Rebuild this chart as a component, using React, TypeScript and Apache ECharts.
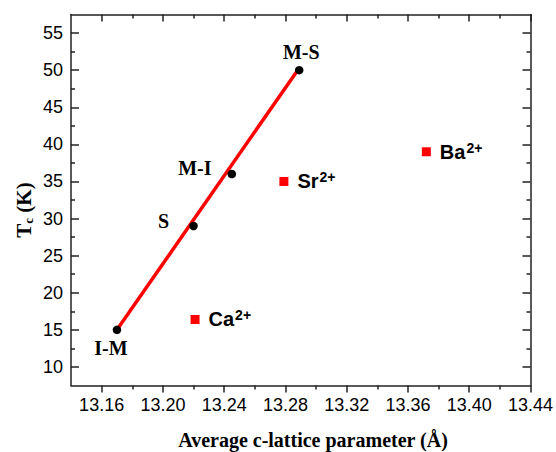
import React, { useEffect, useRef } from "react";
import * as echarts from "echarts";

const xMajorTicks = [13.16, 13.2, 13.24, 13.28, 13.32, 13.36, 13.4, 13.44];
const xMinorTicks = [13.18, 13.22, 13.26, 13.3, 13.34, 13.38, 13.42];
const yMajorTicks = [10, 15, 20, 25, 30, 35, 40, 45, 50, 55];
const yMinorTicks = [12.5, 17.5, 22.5, 27.5, 32.5, 37.5, 42.5, 47.5, 52.5];

const phaseNames = ["I-M", "S", "M-I", "M-S"];
const phaseX = [13.17, 13.22, 13.245, 13.289];
const phaseY = [15, 29, 36, 50];

const ionNames = ["Ca", "Sr", "Ba"];
const ionX = [13.221, 13.279, 13.372];
const ionY = [16.4, 35, 39];

const fitX = [13.17, 13.288];
const fitY = [15, 50];

const phaseLabelOffsets: Record<string, [number, number]> = {
  "I-M": [-6, 18],
  S: [-30, -5],
  "M-I": [-37, -6],
  "M-S": [2, -18],
};

const SERIF = "'Liberation Serif', 'Times New Roman', serif";
const SANS = "'Liberation Sans', Arial, sans-serif";
const AXIS_COLOR = "#222222";

export default function App() {
  const ref = useRef<HTMLDivElement>(null);
  useEffect(() => {
    document.body.style.margin = "0";
    const chart = echarts.init(ref.current!, null, { renderer: "svg" });

    const xBase = { type: "value", min: 13.14, max: 13.44, interval: 0.02, splitLine: { show: false } };
    const yBase = { type: "value", min: 7.5, max: 57.5, interval: 2.5, splitLine: { show: false } };
    const line = { show: true, lineStyle: { color: AXIS_COLOR, width: 1.5 } };
    const noLine = { show: false };
    const noLabel = { show: false };
    const tickStyle = { color: AXIS_COLOR, width: 1.5 };

    const xAxis = [
      {
        ...xBase,
        position: "bottom",
        axisLine: line,
        axisTick: { show: true, inside: false, length: 7, customValues: xMajorTicks, lineStyle: tickStyle },
        axisLabel: {
          show: true,
          customValues: xMajorTicks,
          formatter: (v: number) => v.toFixed(2),
          fontFamily: SANS,
          fontSize: 18,
          color: "#000000",
          margin: 10,
        },
      },
      {
        ...xBase,
        position: "bottom",
        axisLine: noLine,
        axisTick: { show: true, inside: false, length: 4, customValues: xMinorTicks, lineStyle: tickStyle },
        axisLabel: noLabel,
      },
      {
        ...xBase,
        position: "top",
        axisLine: line,
        axisTick: { show: true, inside: true, length: 7, customValues: xMajorTicks, lineStyle: tickStyle },
        axisLabel: noLabel,
      },
      {
        ...xBase,
        position: "top",
        axisLine: noLine,
        axisTick: { show: true, inside: true, length: 4, customValues: xMinorTicks, lineStyle: tickStyle },
        axisLabel: noLabel,
      },
    ];

    const yAxis = [
      {
        ...yBase,
        position: "left",
        axisLine: line,
        axisTick: { show: true, inside: true, length: 8, customValues: yMajorTicks, lineStyle: tickStyle },
        axisLabel: {
          show: true,
          customValues: yMajorTicks,
          fontFamily: SANS,
          fontSize: 18,
          color: "#000000",
          margin: 8,
        },
      },
      {
        ...yBase,
        position: "left",
        axisLine: noLine,
        axisTick: { show: true, inside: true, length: 4, customValues: yMinorTicks, lineStyle: tickStyle },
        axisLabel: noLabel,
      },
      {
        ...yBase,
        position: "right",
        axisLine: line,
        axisTick: { show: true, inside: true, length: 8, customValues: yMajorTicks, lineStyle: tickStyle },
        axisLabel: noLabel,
      },
      {
        ...yBase,
        position: "right",
        axisLine: noLine,
        axisTick: { show: true, inside: true, length: 4, customValues: yMinorTicks, lineStyle: tickStyle },
        axisLabel: noLabel,
      },
    ];

    const phaseData = phaseNames.map((n, i) => ({
      name: n,
      value: [phaseX[i], phaseY[i]],
      label: { offset: phaseLabelOffsets[n] },
    }));

    const ionData = ionNames.map((n, i) => ({ name: n, value: [ionX[i], ionY[i]] }));

    chart.setOption({
      animation: false,
      backgroundColor: "#ffffff",
      grid: { left: 71, right: 24, top: 14.5, bottom: 66.5 },
      xAxis,
      yAxis,
      series: [
        {
          type: "line",
          xAxisIndex: 0,
          yAxisIndex: 0,
          data: fitX.map((x, i) => [x, fitY[i]]),
          symbol: "none",
          lineStyle: { color: "#ff0000", width: 3.5 },
          z: 2,
        },
        {
          type: "scatter",
          xAxisIndex: 0,
          yAxisIndex: 0,
          data: phaseData,
          symbol: "circle",
          symbolSize: 8.5,
          itemStyle: { color: "#000000", opacity: 1 },
          z: 3,
          label: {
            show: true,
            position: "inside",
            align: "center",
            verticalAlign: "middle",
            formatter: (p: any) => p.name,
            fontFamily: SERIF,
            fontWeight: "bold",
            fontSize: 20,
            color: "#000000",
          },
        },
        {
          type: "scatter",
          xAxisIndex: 0,
          yAxisIndex: 0,
          data: ionData,
          symbol: "rect",
          symbolSize: 9,
          itemStyle: { color: "#ff0000", opacity: 1 },
          z: 3,
          label: {
            show: true,
            position: "right",
            distance: 9,
            formatter: (p: any) => `{b|${p.name}}{s|2+}`,
            rich: {
              b: { fontFamily: SANS, fontWeight: "bold", fontSize: 20, color: "#000000", lineHeight: 22 },
              s: { fontFamily: SANS, fontWeight: "bold", fontSize: 14, color: "#000000", lineHeight: 22, padding: [0, 0, 8, 1] },
            },
          },
        },
      ],
      graphic: [
        {
          type: "text",
          x: 313,
          y: 440,
          style: {
            text: "Average c-lattice parameter (Å)",
            font: `bold 20px ${SERIF}`,
            fill: "#000000",
            align: "center",
            verticalAlign: "middle",
          },
        },
        {
          type: "text",
          x: 24,
          y: 210,
          rotation: Math.PI / 2,
          style: {
            text: "{a|T}{s|c}{a| (K)}",
            align: "center",
            verticalAlign: "middle",
            rich: {
              a: { fontFamily: SERIF, fontWeight: "bold", fontSize: 21, fill: "#000000", lineHeight: 24 },
              s: { fontFamily: SERIF, fontWeight: "bold", fontSize: 13, fill: "#000000", lineHeight: 24, padding: [8, 0, 0, 0] },
            },
          },
        },
      ],
    });
    return () => chart.dispose();
  }, []);
  return <div ref={ref} style={{ width: 556, height: 452, position: "absolute", left: 0, top: 0 }} />;
}
